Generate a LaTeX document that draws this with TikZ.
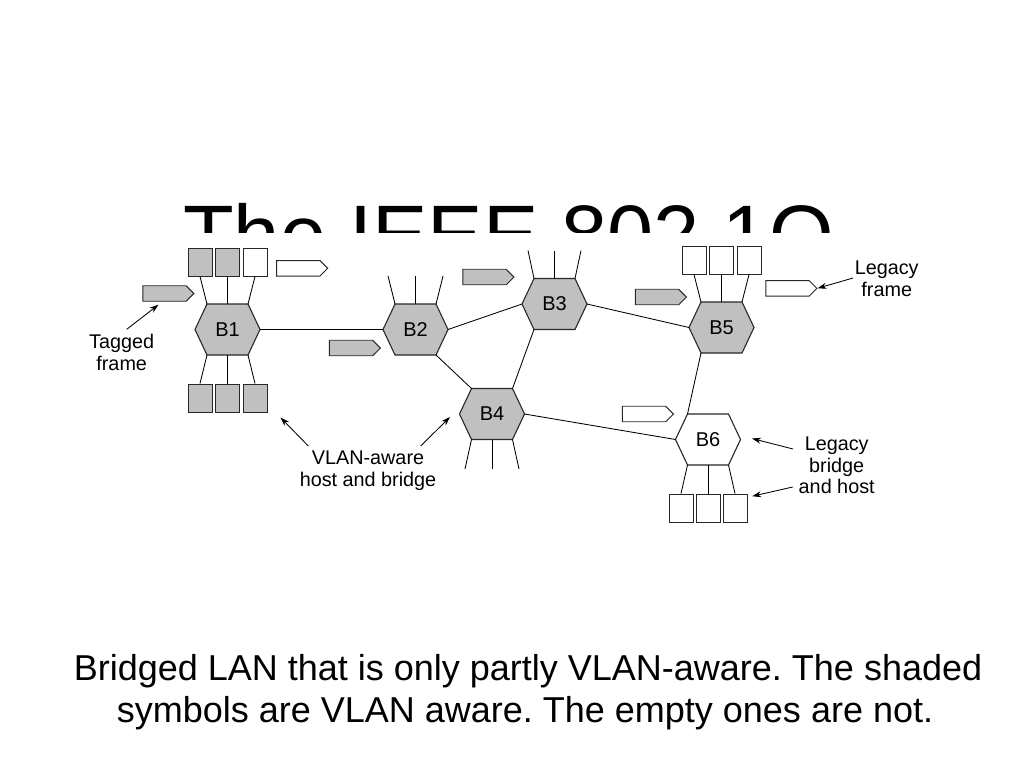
\documentclass[tikz,border=0pt]{standalone}
\usepackage{fontspec}
\setmainfont{Liberation Sans}
\usetikzlibrary{shapes.symbols,arrows.meta}
\definecolor{shade}{RGB}{192,192,192}
\definecolor{edgegray}{RGB}{40,40,40}
\frenchspacing
\tikzset{
  hexline/.style={draw=edgegray, line width=1.1pt, line join=miter},
  hexlbl/.style={font=\fontsize{20}{21.7}\selectfont, inner sep=0pt},
  host/.style={draw=edgegray, line width=1pt, minimum width=24pt, minimum height=28pt, inner sep=0pt},
  frm/.style={signal, signal to=east, draw=edgegray, line width=0.9pt, minimum width=51pt, minimum height=15.5pt, inner sep=0pt},
  wire/.style={draw=black, line width=0.85pt},
  note/.style={font=\fontsize{19.8}{21.7}\selectfont, align=center, inner sep=1pt},
  arr/.style={-{Stealth[length=9pt,width=6pt]}, line width=0.85pt},
  captext/.style={anchor=base, inner sep=0pt, font=\fontsize{36}{42}\selectfont},
}
\newcommand{\hexnode}[5]{%
  \begin{scope}[shift={(#2,#3)}]
    \draw[hexline,fill=#5] (-32.5,0) -- (-20.5,-25.5) -- (20.5,-25.5) -- (32.5,0) -- (20.5,25.5) -- (-20.5,25.5) -- cycle;
    \coordinate (#1-w) at (-32.5,0);
    \coordinate (#1-nw) at (-20.5,-25.5);
    \coordinate (#1-n) at (0,-25.5);
    \coordinate (#1-ne) at (20.5,-25.5);
    \coordinate (#1-e) at (32.5,0);
    \coordinate (#1-se) at (20.5,25.5);
    \coordinate (#1-s) at (0,25.5);
    \coordinate (#1-sw) at (-20.5,25.5);
    \node[hexlbl] (#1) at (0,0) {#4};
  \end{scope}}
\begin{document}
\begin{tikzpicture}[x=1pt,y=-1pt]
\useasboundingbox (0,0) rectangle (1024,768);
\fill[white] (0,0) rectangle (1024,768);

% title, partly hidden behind the figure
\node[anchor=base west, inner sep=0pt, font=\fontsize{83}{90}\selectfont] (title) at (183,263.6) {The IEEE 802.1Q};
\fill[white] (100,233) rectangle (930,530);

% bridges
\hexnode{b1}{227.5}{329.5}{B1}{shade}
\hexnode{b2}{415.5}{329.5}{B2}{shade}
\hexnode{b3}{554.5}{304}{B3}{shade}
\hexnode{b4}{492}{414}{B4}{shade}
\hexnode{b5}{721.5}{327.5}{B5}{shade}
\hexnode{b6}{708}{439.5}{B6}{white}

% links between bridges
\draw[wire] (b1-e) -- (b2-w);
\draw[wire] (b2-e) -- (b3-w);
\draw[wire] (b2-se) -- (b4-nw);
\draw[wire] (b3-sw) -- (b4-ne);
\draw[wire] (b3-e) -- (b5-w);
\draw[wire] (b4-e) -- (b6-w);
\draw[wire] (b5-sw) -- (b6-nw);

% hosts
\node[host,fill=shade] (h11) at (200,262) {};
\node[host,fill=shade] (h12) at (227.5,262) {};
\node[host,fill=white] (h13) at (255,262) {};
\node[host,fill=shade] (h14) at (200,398) {};
\node[host,fill=shade] (h15) at (227.5,398) {};
\node[host,fill=shade] (h16) at (255,398) {};
\node[host,fill=white] (h51) at (694,260) {};
\node[host,fill=white] (h52) at (721.5,260) {};
\node[host,fill=white] (h53) at (749,260) {};
\node[host,fill=white] (h61) at (681,508) {};
\node[host,fill=white] (h62) at (708,508) {};
\node[host,fill=white] (h63) at (735,508) {};

\draw[wire] (b1-nw) -- (h11.south);
\draw[wire] (b1-n) -- (h12.south);
\draw[wire] (b1-ne) -- (h13.south);
\draw[wire] (b1-sw) -- (h14.north);
\draw[wire] (b1-s) -- (h15.north);
\draw[wire] (b1-se) -- (h16.north);
\draw[wire] (b5-nw) -- (h51.south);
\draw[wire] (b5-n) -- (h52.south);
\draw[wire] (b5-ne) -- (h53.south);
\draw[wire] (b6-sw) -- (h61.north);
\draw[wire] (b6-s) -- (h62.north);
\draw[wire] (b6-se) -- (h63.north);

% free spokes
\coordinate (b2t1) at (388,276);
\coordinate (b2t2) at (415.5,276);
\coordinate (b2t3) at (443,276);
\coordinate (b3t1) at (528,250.5);
\coordinate (b3t2) at (554.5,250.5);
\coordinate (b3t3) at (581,250.5);
\coordinate (b4t1) at (465,469);
\coordinate (b4t2) at (492,469);
\coordinate (b4t3) at (519,469);
\draw[wire] (b2-nw) -- (b2t1);
\draw[wire] (b2-n) -- (b2t2);
\draw[wire] (b2-ne) -- (b2t3);
\draw[wire] (b3-nw) -- (b3t1);
\draw[wire] (b3-n) -- (b3t2);
\draw[wire] (b3-ne) -- (b3t3);
\draw[wire] (b4-sw) -- (b4t1);
\draw[wire] (b4-s) -- (b4t2);
\draw[wire] (b4-se) -- (b4t3);

% frames
\node[frm,fill=white] (f1) at (298.3,268.3) {};
\node[frm,fill=shade] (f2) at (164.5,293.5) {};
\node[frm,fill=shade] (f3) at (351,348) {};
\node[frm,fill=shade] (f4) at (484.5,277) {};
\node[frm,fill=shade] (f5) at (657,297) {};
\node[frm,fill=white] (f6) at (787.5,288.3) {};
\node[frm,fill=white] (f7) at (644,414) {};

% annotations
\node[note] (tag) at (121.7,352.5) {Tagged\\frame};
\node[note] (vlan) at (368,471) {VLAN-aware\\host and bridge};
\node[note] (legf) at (886.7,278.5) {Legacy\\frame};
\node[note] (legb) at (836.7,465.5) {Legacy\\bridge\\and host};

\coordinate (tagS) at (126.7,329.3);
\coordinate (vlanS1) at (308.3,446);
\coordinate (vlanS2) at (420.7,446);
\coordinate (legfS) at (853,278);
\coordinate (legbS1) at (793,449);
\coordinate (legbS2) at (792.7,487);

\draw[arr] (tagS) -- ([xshift=-6pt,yshift=-3pt]f2.south);
\draw[arr] (vlanS1) -- ([xshift=13pt,yshift=-5pt]h16.south east);
\draw[arr] (vlanS2) -- ([xshift=-9.5pt,yshift=-3pt]b4-w);
\draw[arr] (legfS) -- (f6.east);
\draw[arr] (legbS1) -- ([xshift=11.5pt,yshift=1pt]b6-e);
\draw[arr] (legbS2) -- ([xshift=4.7pt,yshift=-2.7pt]h63.north east);

% caption
\node[captext] (cap1) at (528,680) {Bridged LAN that is only partly VLAN-aware. The shaded};
\node[captext] (cap2) at (525,722) {symbols are VLAN aware. The empty ones are not.};
\end{tikzpicture}
\end{document}
